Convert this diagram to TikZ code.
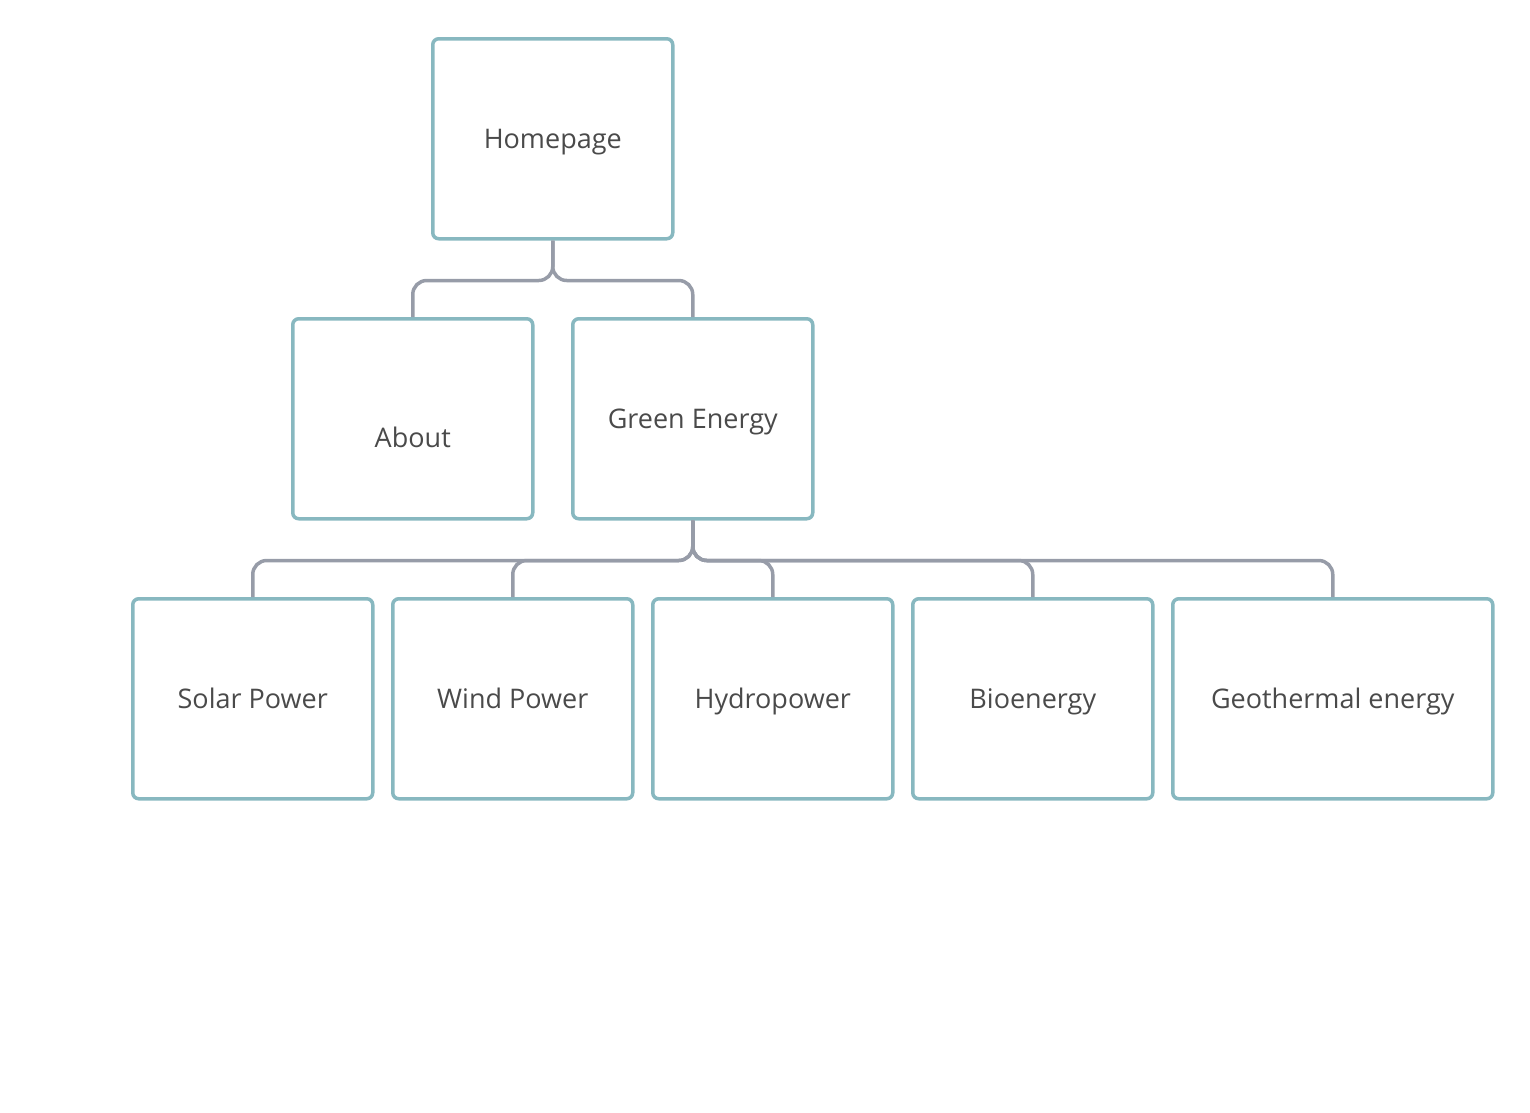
\documentclass[tikz,border=0pt]{standalone}
\usepackage{fontspec}
\setmainfont{Open Sans}
\definecolor{boxc}{HTML}{88B8C0}
\definecolor{linec}{HTML}{979CA8}
\definecolor{txtc}{HTML}{4A4A4A}
\begin{document}
\begin{tikzpicture}[x=1pt,y=-1pt,
  page/.style={draw=boxc, line width=3.5pt, rounded corners=6pt, minimum height=200pt, inner sep=0pt, anchor=north west},
  lbl/.style={text=txtc, font=\fontsize{27}{31}\selectfont, text height=20pt, text depth=6pt, inner sep=0pt},
  conn/.style={draw=linec, line width=3.5pt, rounded corners=14pt}]
\useasboundingbox (0,0) rectangle (1530,1112);
\node[page, minimum width=240pt] (home) at (431,37) {};
\node[lbl] (homel) at ([yshift=-3pt]home.center) {Homepage};
\node[page, minimum width=240pt] (about) at (291,317) {};
\node[lbl] (aboutl) at ([yshift=-22pt]about.center) {About};
\node[page, minimum width=240pt] (green) at (571,317) {};
\node[lbl] (greenl) at ([yshift=-3pt]green.center) {Green Energy};
\node[page, minimum width=240pt] (solar) at (131,597) {};
\node[page, minimum width=240pt] (wind) at (391,597) {};
\node[page, minimum width=240pt] (hydro) at (651,597) {};
\node[page, minimum width=240pt] (bio) at (911,597) {};
\node[page, minimum width=320pt] (geo) at (1171,597) {};
\node[lbl] (solarl) at ([yshift=-3pt]solar.center) {Solar Power};
\node[lbl] (windl) at ([yshift=-3pt]wind.center) {Wind Power};
\node[lbl] (hydrol) at ([yshift=-3pt]hydro.center) {Hydropower};
\node[lbl] (biol) at ([yshift=-3pt]bio.center) {Bioenergy};
\node[lbl] (geol) at ([yshift=-3pt]geo.center) {Geothermal energy};
\foreach \c in {about,green}
  \draw[conn] (home.south) -- ++(0,40) -| (\c.north);
\foreach \c in {solar,wind,hydro,bio,geo}
  \draw[conn] (green.south) -- ++(0,40) -| (\c.north);
\end{tikzpicture}
\end{document}
